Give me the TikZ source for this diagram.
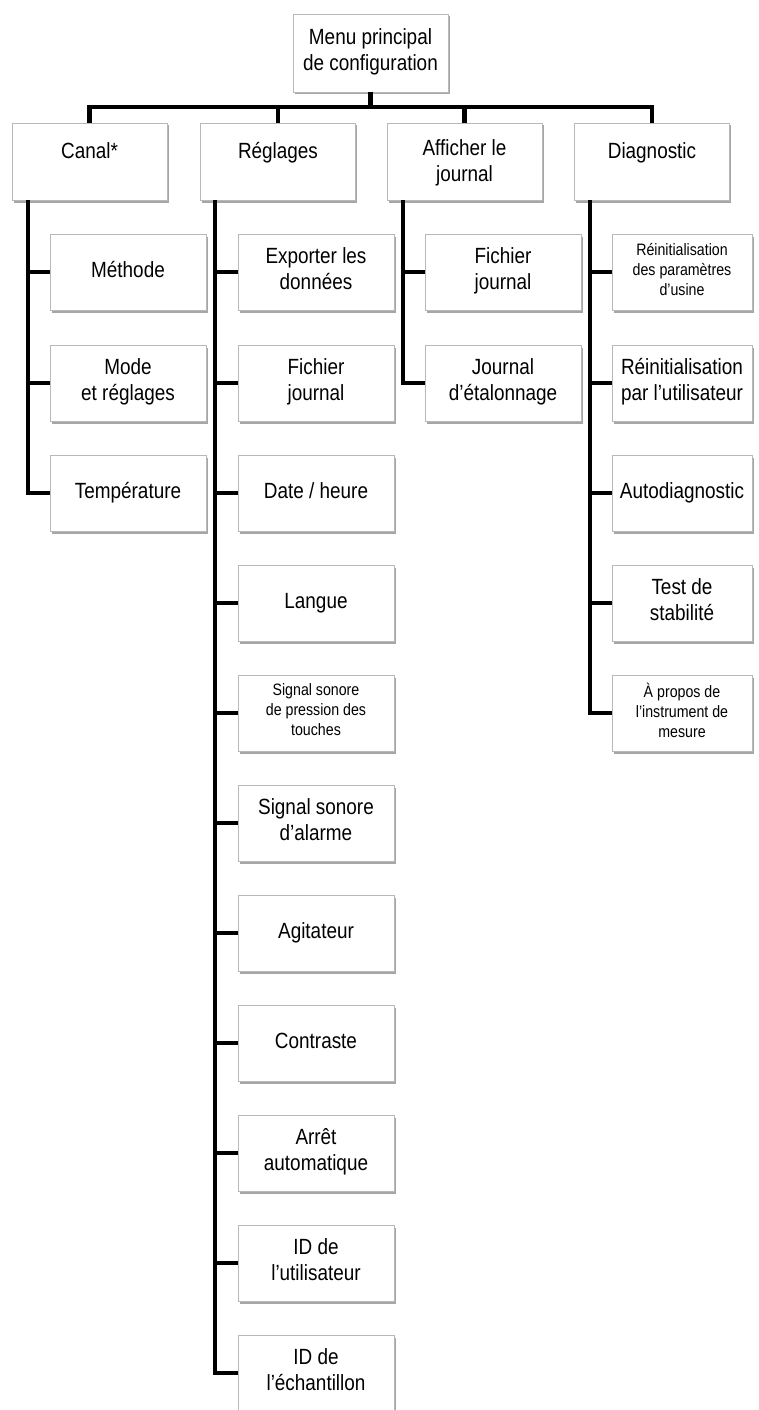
\documentclass[tikz,border=0pt]{standalone}
\usepackage{fontspec}
\setmainfont{Liberation Sans}[FakeStretch=0.86]
\usetikzlibrary{shadows}
\begin{document}
\begin{tikzpicture}[x=1pt,y=-1pt,
  frame/.style={draw=black!28, fill=white, line width=0.8pt,
    drop shadow={shadow xshift=1.5pt,shadow yshift=-2.5pt,opacity=0.35,fill=black},
    inner sep=0pt},
  txt/.style={align=center, font=\fontsize{22}{26}\selectfont, inner sep=0pt,
    execute at begin node=\strut, execute at end node=\strut},
  box/.style={frame, txt},
  small/.style={font=\fontsize{16.5}{20}\selectfont},
  top/.style={frame, minimum width=155, minimum height=77},
  child/.style={box, minimum width=156, minimum height=76},
  dchild/.style={box, minimum width=140, minimum height=76},
  conn/.style={line width=4.5pt, line cap=butt}]
\useasboundingbox (0,0) rectangle (758,1410);
\clip (0,0) rectangle (758,1410);
\fill[white] (0,0) rectangle (758,1410);

\node[box, minimum width=155, minimum height=78] (root) at (370.5,53) {Menu principal\\de configuration};

\node[top] (canal) at (89.5,161.5) {};
\node[top] (regl) at (278,161.5) {};
\node[top] (aff) at (464.5,161.5) {};
\node[top] (diag) at (652,161.5) {};
\node[txt, anchor=north] (canalT) at ([yshift=-17]canal.north) {Canal*};
\node[txt, anchor=north] (reglT) at ([yshift=-17]regl.north) {Réglages};
\node[txt, anchor=north] (affT) at ([yshift=-17]aff.north) {Afficher le\\journal};
\node[txt, anchor=north] (diagT) at ([yshift=-17]diag.north) {Diagnostic};

\coordinate (bar) at (370.5,107);
\draw[conn] (root.south) -- (root |- bar);
\draw[conn] (canal.north) -- (canal.north |- bar) -- (diag.north |- bar) -- (diag.north);
\draw[conn] (regl.north) -- (regl.north |- bar);
\draw[conn] (aff.north) -- (aff.north |- bar);

% Canal children
\node[child] (c1) at (128,272) {Méthode};
\node[child] (c2) at (128,383) {Mode\\et réglages};
\node[child] (c3) at (128,493) {Température};

% Reglages children
\node[child] (r1) at (316,272) {Exporter les\\données};
\node[child] (r2) at (316,383) {Fichier\\journal};
\node[child] (r3) at (316,493) {Date / heure};
\node[child] (r4) at (316,603) {Langue};
\node[child, small] (r5) at (316,713) {Signal sonore\\de pression des\\touches};
\node[child] (r6) at (316,823) {Signal sonore\\d’alarme};
\node[child] (r7) at (316,933) {Agitateur};
\node[child] (r8) at (316,1043) {Contraste};
\node[child] (r9) at (316,1153) {Arrêt\\automatique};
\node[child] (r10) at (316,1263) {ID de\\l’utilisateur};
\node[child] (r11) at (316,1373) {ID de\\l’échantillon};

% Afficher children
\node[child] (a1) at (503,272) {Fichier\\journal};
\node[child] (a2) at (503,383) {Journal\\d’étalonnage};

% Diagnostic children
\node[dchild, small] (d1) at (682,272) {Réinitialisation\\des paramètres\\d’usine};
\node[dchild] (d2) at (682,383) {Réinitialisation\\par l’utilisateur};
\node[dchild] (d3) at (682,493) {Autodiagnostic};
\node[dchild] (d4) at (682,603) {Test de\\stabilité};
\node[dchild, small] (d5) at (682,713) {À propos de\\l’instrument de\\mesure};

% trunks
\coordinate (ct) at (28,0 |- canal.south);
\coordinate (rt) at (215,0 |- regl.south);
\coordinate (at) at (403,0 |- aff.south);
\coordinate (dt) at (590,0 |- diag.south);

\draw[conn] (ct) -- (ct |- c3.west);
\foreach \n in {c1,c2,c3} \draw[conn] ([xshift=-2.25]ct |- \n.west) -- (\n.west);
\draw[conn] (rt) -- (rt |- r11.west);
\foreach \n in {r1,r2,r3,r4,r5,r6,r7,r8,r9,r10,r11} \draw[conn] ([xshift=-2.25]rt |- \n.west) -- (\n.west);
\draw[conn] (at) -- (at |- a2.west);
\foreach \n in {a1,a2} \draw[conn] ([xshift=-2.25]at |- \n.west) -- (\n.west);
\draw[conn] (dt) -- (dt |- d5.west);
\foreach \n in {d1,d2,d3,d4,d5} \draw[conn] ([xshift=-2.25]dt |- \n.west) -- (\n.west);
\end{tikzpicture}
\end{document}
